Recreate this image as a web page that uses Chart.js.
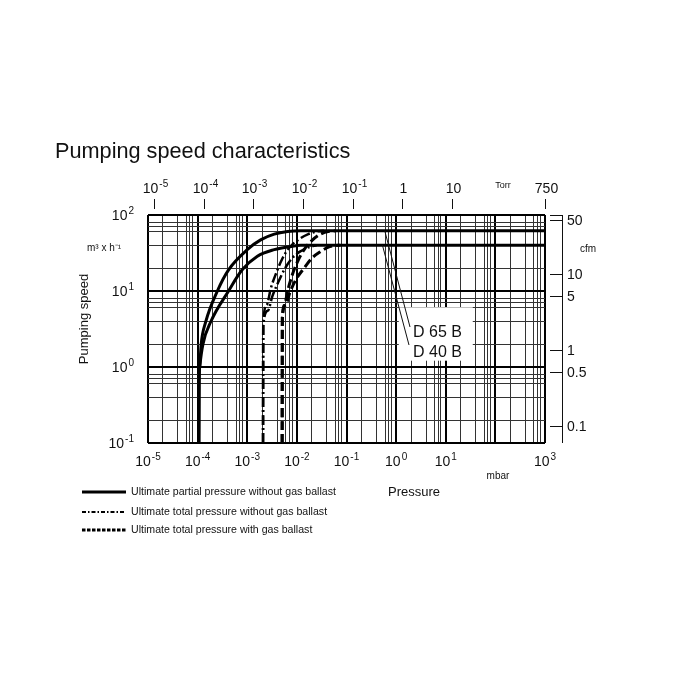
<!DOCTYPE html>
<html>
<head>
<meta charset="utf-8">
<script src="https://cdn.jsdelivr.net/npm/chart.js@4.4.1/dist/chart.umd.min.js"></script>
<style>
  html, body { margin: 0; padding: 0; background: #fff; }
  #wrap { width: 700px; height: 700px; position: relative; }
</style>
</head>
<body>
<div id="wrap"><canvas id="pumpChart" width="700" height="700"></canvas></div>
<script>
// pressure in mbar, pumping speed in m3/h
const solid65P = [1.06e-4, 1.07e-4, 1.1e-4, 1.18e-4, 1.45e-4, 2.5e-4, 4.2e-4, 1e-3, 1.86e-3, 3.5e-3, 6.5e-3, 1.2e-2, 1e3];
const solid65S = [0.1, 0.6, 1, 2, 3.9, 10, 19, 35, 47, 56, 60.6, 62, 62];
const solid40P = [1.06e-4, 1.07e-4, 1.1e-4, 1.28e-4, 1.86e-4, 4.2e-4, 7.9e-4, 1.6e-3, 3.5e-3, 7.5e-3, 1.2e-2, 1e3];
const solid40S = [0.1, 0.6, 1, 2, 4, 10, 19, 28.7, 35, 38.6, 40, 40];

const dashDot65P = [2.08e-3, 2.1e-3, 2.45e-3, 3.0e-3, 3.8e-3, 5e-3, 7e-3, 1.1e-2, 1.7e-2, 2.6e-2, 3.5e-2];
const dashDot65S = [0.1, 3.5, 6.5, 11, 17, 26, 37, 48, 56, 61, 62];
const dashDot40P = [2.08e-3, 2.1e-3, 2.6e-3, 3.2e-3, 4.2e-3, 5.8e-3, 8e-3, 1.15e-2, 1.7e-2, 2.5e-2];
const dashDot40S = [0.1, 3.5, 5.5, 8.5, 13, 20, 27, 33, 37.5, 40];

const dashed65P = [5.05e-3, 5.1e-3, 5.6e-3, 6.5e-3, 8e-3, 1.05e-2, 1.4e-2, 2e-2, 3e-2, 4.5e-2, 6e-2];
const dashed65S = [0.1, 4.5, 6.5, 10, 16, 25, 35, 46, 56, 61, 62];
const dashed40P = [5.05e-3, 5.1e-3, 5.9e-3, 7.2e-3, 9.5e-3, 1.4e-2, 2e-2, 3e-2, 4.2e-2, 5.8e-2, 7.5e-2];
const dashed40S = [0.1, 4.5, 6.5, 9.5, 14, 20, 27, 33, 37.5, 39.5, 40];

// axis ticks
const mbarTicks = [1e-5, 1e-4, 1e-3, 1e-2, 1e-1, 1, 10, 1000];
const mbarLabels = ['10^-5', '10^-4', '10^-3', '10^-2', '10^-1', '10^0', '10^1', '10^3'];
const torrTicks = [1e-5, 1e-4, 1e-3, 1e-2, 1e-1, 1, 10, 750];
const torrLabels = ['10^-5', '10^-4', '10^-3', '10^-2', '10^-1', '1', '10', '750'];
const speedTicks = [100, 10, 1, 0.1];
const speedLabels = ['10^2', '10^1', '10^0', '10^-1'];
const cfmTicks = [50, 10, 5, 1, 0.5, 0.1];
const cfmLabels = ['50', '10', '5', '1', '0.5', '0.1'];
const gridSteps = [1, 2, 4, 6, 7, 8];

const TORR_PER_MBAR = 0.750062;
const CFM_PER_M3H = 0.588578;
const FONT = '"Liberation Sans", Arial, sans-serif';

function toPoints(px, py) {
  return px.map((p, i) => ({ x: p, y: py[i] }));
}

function gridValues(lo, hi) {
  const out = [];
  for (let e = Math.round(Math.log10(lo)); e <= Math.round(Math.log10(hi)); e++) {
    gridSteps.forEach(s => {
      const v = s * Math.pow(10, e);
      if (v >= lo * 0.999 && v <= hi * 1.001) out.push(v);
    });
  }
  return out;
}

function isDecade(v) {
  const l = Math.log10(v);
  return Math.abs(l - Math.round(l)) < 1e-6;
}

// draws "10^-5" style label with a raised exponent
function drawPow(ctx, label, x, y, align) {
  const parts = label.split('^');
  ctx.font = '14px ' + FONT;
  const wBase = ctx.measureText(parts[0]).width;
  let wExp = 0;
  if (parts[1]) {
    ctx.font = '10px ' + FONT;
    wExp = ctx.measureText(parts[1]).width + 1;
  }
  const total = wBase + wExp;
  let x0 = x;
  if (align === 'center') x0 = x - total / 2;
  if (align === 'right') x0 = x - total;
  ctx.textAlign = 'left';
  ctx.textBaseline = 'alphabetic';
  ctx.font = '14px ' + FONT;
  ctx.fillText(parts[0], x0, y);
  if (parts[1]) {
    ctx.font = '10px ' + FONT;
    ctx.fillText(parts[1], x0 + wBase + 1, y - 6.5);
  }
}

const decor = {
  id: 'decor',
  beforeDatasetsDraw(chart) {
    const ctx = chart.ctx, xs = chart.scales.x, ys = chart.scales.y;
    // white box behind the model labels
    ctx.save();
    ctx.fillStyle = '#fff';
    const bx0 = xs.getPixelForValue(1.13), bx1 = xs.getPixelForValue(35);
    const by0 = ys.getPixelForValue(6.1), by1 = ys.getPixelForValue(1.21);
    ctx.fillRect(bx0, by0, bx1 - bx0, by1 - by0);
    ctx.restore();
  },
  afterDraw(chart) {
    const ctx = chart.ctx, xs = chart.scales.x, ys = chart.scales.y;
    const area = chart.chartArea;
    ctx.save();
    ctx.fillStyle = '#111';
    ctx.strokeStyle = '#111';

    // title
    ctx.font = '21.7px ' + FONT;
    ctx.textAlign = 'left';
    ctx.textBaseline = 'alphabetic';
    ctx.fillText('Pumping speed characteristics', 55, 158);

    // bottom mbar labels
    mbarTicks.forEach((v, i) => drawPow(ctx, mbarLabels[i], xs.getPixelForValue(v), 466, 'center'));
    ctx.font = '10px ' + FONT;
    ctx.textAlign = 'center';
    ctx.fillText('mbar', 498, 479);
    ctx.font = '13px ' + FONT;
    ctx.fillText('Pressure', 414, 496);

    // top Torr axis
    ctx.lineWidth = 1;
    torrTicks.forEach((t, i) => {
      const px = Math.round(xs.getPixelForValue(t / TORR_PER_MBAR)) + 0.5;
      ctx.beginPath();
      ctx.moveTo(px, 199);
      ctx.lineTo(px, 209);
      ctx.stroke();
      drawPow(ctx, torrLabels[i], px + 1, 193, 'center');
    });
    ctx.font = '9px ' + FONT;
    ctx.textAlign = 'center';
    ctx.fillText('Torr', 503, 188);

    // left speed axis
    speedTicks.forEach((v, i) => drawPow(ctx, speedLabels[i], 134, ys.getPixelForValue(v) + 5, 'right'));
    ctx.font = '10px ' + FONT;
    ctx.textAlign = 'left';
    ctx.fillText('m³ x h⁻¹', 87, 251);
    ctx.save();
    ctx.translate(88, 319);
    ctx.rotate(-Math.PI / 2);
    ctx.font = '13px ' + FONT;
    ctx.textAlign = 'center';
    ctx.fillText('Pumping speed', 0, 0);
    ctx.restore();

    // right cfm axis
    const axX = 562.5;
    ctx.beginPath();
    ctx.moveTo(axX, area.top);
    ctx.lineTo(axX, area.bottom);
    ctx.moveTo(550, area.top + 0.5);
    ctx.lineTo(axX, area.top + 0.5);
    ctx.stroke();
    cfmTicks.forEach((c, i) => {
      const py = Math.round(ys.getPixelForValue(c / CFM_PER_M3H)) + 0.5;
      ctx.beginPath();
      ctx.moveTo(550, py);
      ctx.lineTo(axX, py);
      ctx.stroke();
      ctx.font = '14px ' + FONT;
      ctx.textAlign = 'left';
      ctx.textBaseline = 'middle';
      ctx.fillText(cfmLabels[i], 567, py + 1);
    });
    ctx.textBaseline = 'alphabetic';
    ctx.font = '10px ' + FONT;
    ctx.fillText('cfm', 580, 252);

    // model labels with leader lines
    ctx.lineWidth = 1;
    ctx.beginPath();
    ctx.moveTo(xs.getPixelForValue(0.59), ys.getPixelForValue(62));
    ctx.lineTo(410, 327);
    ctx.moveTo(xs.getPixelForValue(0.53), ys.getPixelForValue(40));
    ctx.lineTo(409, 345);
    ctx.stroke();
    ctx.font = '16px ' + FONT;
    ctx.textAlign = 'left';
    ctx.fillText('D 65 B', 413, 337);
    ctx.fillText('D 40 B', 413, 357);

    // legend
    const legendRows = [
      { y: 492, dash: [], w: 3, text: 'Ultimate partial pressure without gas ballast' },
      { y: 512, dash: [4, 2, 1.5, 2], w: 2, text: 'Ultimate total pressure without gas ballast' },
      { y: 530, dash: [3.5, 1.5], w: 3, text: 'Ultimate total pressure with gas ballast' }
    ];
    legendRows.forEach(r => {
      ctx.save();
      ctx.strokeStyle = '#000';
      ctx.lineWidth = r.w;
      ctx.setLineDash(r.dash);
      ctx.beginPath();
      ctx.moveTo(82, r.y);
      ctx.lineTo(126, r.y);
      ctx.stroke();
      ctx.restore();
      ctx.font = '10.6px ' + FONT;
      ctx.textAlign = 'left';
      ctx.textBaseline = 'middle';
      ctx.fillText(r.text, 131, r.y);
    });
    ctx.restore();
  }
};

function series(px, py, dash, width) {
  return {
    data: toPoints(px, py),
    borderColor: '#000',
    borderWidth: width,
    borderDash: dash,
    pointRadius: 0,
    cubicInterpolationMode: 'monotone',
    fill: false
  };
}

const ctx = document.getElementById('pumpChart').getContext('2d');
new Chart(ctx, {
  type: 'line',
  data: {
    datasets: [
      series(solid65P, solid65S, [], 3),
      series(solid40P, solid40S, [], 3),
      series(dashDot65P, dashDot65S, [10, 3, 2, 3], 2.5),
      series(dashDot40P, dashDot40S, [10, 3, 2, 3], 2.5),
      series(dashed65P, dashed65S, [9, 4], 3),
      series(dashed40P, dashed40S, [9, 4], 3)
    ]
  },
  options: {
    responsive: false,
    animation: false,
    layout: { padding: { left: 148, right: 155, top: 215, bottom: 257 } },
    plugins: { legend: { display: false }, tooltip: { enabled: false } },
    scales: {
      x: {
        type: 'logarithmic',
        min: 1e-5,
        max: 1e3,
        afterBuildTicks: s => { s.ticks = gridValues(1e-5, 1e3).map(v => ({ value: v })); },
        afterFit: s => { s.height = 0; },
        ticks: { display: false },
        border: { display: false },
        grid: {
          drawTicks: false,
          color: c => isDecade(c.tick.value) ? '#000' : '#333',
          lineWidth: c => isDecade(c.tick.value) ? 2 : 1
        }
      },
      y: {
        type: 'logarithmic',
        min: 0.1,
        max: 100,
        afterBuildTicks: s => { s.ticks = gridValues(0.1, 100).map(v => ({ value: v })); },
        afterFit: s => { s.width = 0; },
        ticks: { display: false },
        border: { display: false },
        grid: {
          drawTicks: false,
          color: c => isDecade(c.tick.value) ? '#000' : '#333',
          lineWidth: c => isDecade(c.tick.value) ? 2 : 1
        }
      }
    }
  },
  plugins: [decor]
});
</script>
</body>
</html>
